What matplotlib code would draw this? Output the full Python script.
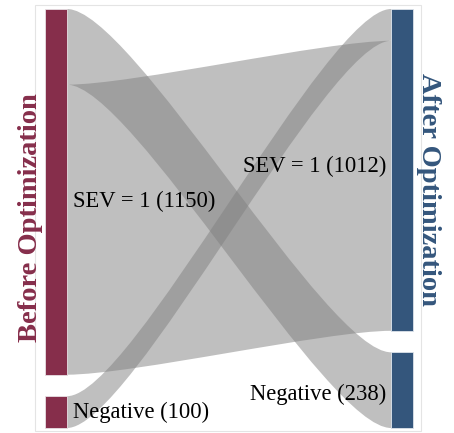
import matplotlib
matplotlib.use("Agg")
import matplotlib.pyplot as plt
from matplotlib.path import Path
from matplotlib.patches import PathPatch, Rectangle

plt.rcParams['font.family'] = ['Liberation Serif', 'DejaVu Serif']

# data
node_labels = ["SEV = 1", "Negative"]
before_vals = [1150, 100]
after_vals = [1012, 238]
# links: (source on the left, target on the right, value)
link_src = [0, 0, 1]
link_tgt = [0, 1, 0]
link_vals = [912, 238, 100]

left_color = '#862e4b'
right_color = '#34567c'
flow_color = '#808080'

W, H = 454, 433
fig = plt.figure(figsize=(W / 100, H / 100), dpi=100)
ax = fig.add_axes([0, 0, 1, 1])
ax.set_xlim(0, W)
ax.set_ylim(H, 0)
ax.axis('off')

top, bottom, gap = 9, 428, 21.5
xl0, xl1 = 45, 67
xr0, xr1 = 391, 413
total = sum(before_vals)
k = (bottom - top - gap) / total


def node_pos(vals):
    pos = []
    y = top
    for v in vals:
        pos.append((y, y + v * k))
        y += v * k + gap
    return pos


left_pos = node_pos(before_vals)
right_pos = node_pos(after_vals)

# faint frame
ax.add_patch(Rectangle((35, 5), 386, 426, fill=False, ec='#e4e4e4', lw=0.8))

# flows: outgoing ordered by target (reverse), incoming by source (reverse)
out_off = [p[0] for p in left_pos]
in_off = [p[0] for p in right_pos]
order_out = sorted(range(len(link_vals)), key=lambda i: (link_src[i], -link_tgt[i]))
y_out = {}
for i in order_out:
    s = link_src[i]
    y_out[i] = out_off[s]
    out_off[s] += link_vals[i] * k
order_in = sorted(range(len(link_vals)), key=lambda i: (link_tgt[i], -link_src[i]))
y_in = {}
for i in order_in:
    t = link_tgt[i]
    y_in[i] = in_off[t]
    in_off[t] += link_vals[i] * k

curv = 0.2
xa = xl1 + curv * (xr0 - xl1)
xb = xr0 - curv * (xr0 - xl1)
for i in range(len(link_vals)):
    h = link_vals[i] * k
    a0, b0 = y_out[i], y_in[i]
    a1, b1 = a0 + h, b0 + h
    verts = [(xl1, a0), (xa, a0), (xb, b0), (xr0, b0),
             (xr0, b1), (xb, b1), (xa, a1), (xl1, a1), (xl1, a0)]
    codes = [Path.MOVETO, Path.CURVE4, Path.CURVE4, Path.CURVE4,
             Path.LINETO, Path.CURVE4, Path.CURVE4, Path.CURVE4, Path.CLOSEPOLY]
    ax.add_patch(PathPatch(Path(verts, codes), fc=flow_color, ec='none', alpha=0.5))

# nodes
for (y0, y1) in left_pos:
    ax.add_patch(Rectangle((xl0, y0), xl1 - xl0, y1 - y0, fc=left_color, ec='#e8e0e4', lw=0.6))
for (y0, y1) in right_pos:
    ax.add_patch(Rectangle((xr0, y0), xr1 - xr0, y1 - y0, fc=right_color, ec='#dde3ea', lw=0.6))

# labels
left_dy = [10, 0]
right_dy = [-3, 4]
for lab, v, (y0, y1), dy in zip(node_labels, before_vals, left_pos, left_dy):
    ax.text(73, (y0 + y1) / 2 + dy, f"{lab} ({v})", fontsize=16.3, ha='left', va='center')
for lab, v, (y0, y1), dy in zip(node_labels, after_vals, right_pos, right_dy):
    ax.text(386, (y0 + y1) / 2 + dy, f"{lab} ({v})", fontsize=16.3, ha='right', va='center')

ax.text(31, 218, "Before Optimization", rotation=90, fontsize=20.5, fontweight='bold',
        color=left_color, ha='center', va='center')
ax.text(429, 189, "After Optimization", rotation=-90, fontsize=20.5, fontweight='bold',
        color=right_color, ha='center', va='center')

fig.savefig("out.png", dpi=100)
